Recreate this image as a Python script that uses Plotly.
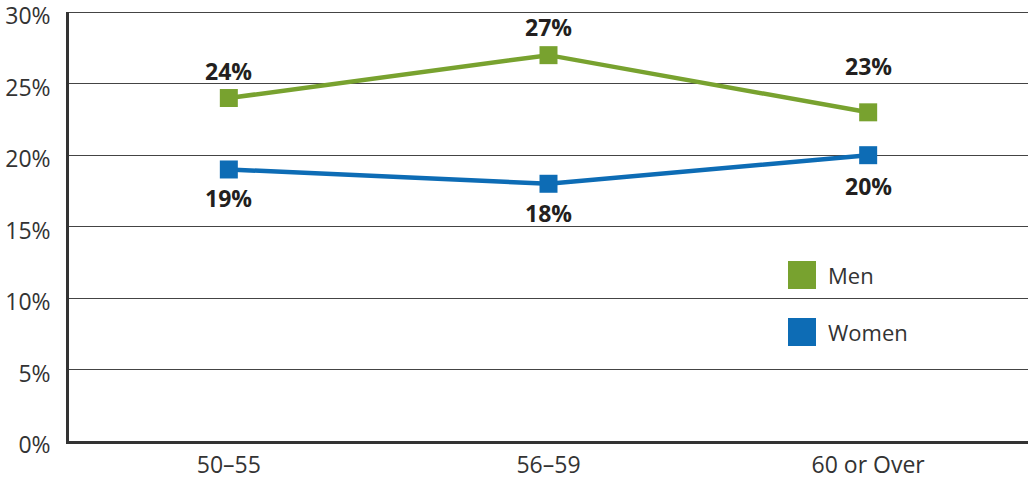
import plotly.graph_objects as go

categories = ["50–55", "56–59", "60 or Over"]
men = [24, 27, 23]
women = [19, 18, 20]
men_labels = ["24%", "27%", "23%"]
women_labels = ["19%", "18%", "20%"]
y_ticks = [0, 5, 10, 15, 20, 25, 30]
y_tick_labels = ["0%", "5%", "10%", "15%", "20%", "25%", "30%"]

GREEN = "#78A22F"
BLUE = "#0D6CB5"
FONT = "Open Sans"

fig = go.Figure()
fig.add_trace(go.Scatter(x=categories, y=men, mode="lines+markers", name="Men",
                         line=dict(color=GREEN, width=4.5),
                         marker=dict(symbol="square", size=18, color=GREEN),
                         showlegend=False, cliponaxis=False))
fig.add_trace(go.Scatter(x=categories, y=women, mode="lines+markers", name="Women",
                         line=dict(color=BLUE, width=4.5),
                         marker=dict(symbol="square", size=18, color=BLUE),
                         showlegend=False, cliponaxis=False))

annotations = []
men_shift = [27, 28, 46]
women_shift = [-29, -29, -31]
for c, v, t, s in zip(categories, men, men_labels, men_shift):
    annotations.append(dict(x=c, y=v, text=t, showarrow=False, yshift=s,
                            font=dict(family=FONT, size=23, color="#231F20", weight="bold")))
for c, v, t, s in zip(categories, women, women_labels, women_shift):
    annotations.append(dict(x=c, y=v, text=t, showarrow=False, yshift=s,
                            font=dict(family=FONT, size=23, color="#231F20", weight="bold")))

PW, PH, L, T = 959.0, 429.0, 69, 12
shapes = [
    # top gridline at the axis maximum
    dict(type="line", xref="paper", yref="y", x0=0, x1=1, y0=y_ticks[-1], y1=y_ticks[-1],
         line=dict(color="#444444", width=1.3), layer="between"),
    # white box behind the legend
    dict(type="rect", xref="paper", yref="paper",
         x0=(742 - L) / PW, x1=(933 - L) / PW,
         y0=(441 - 320) / PH, y1=(441 - 250) / PH,
         fillcolor="white", line=dict(width=0), layer="between"),
]
leg_items = [("Men", GREEN, 275), ("Women", BLUE, 332)]
for name, col, ypix in leg_items:
    yc = (441 - ypix) / PH
    shapes.append(dict(type="rect", xref="paper", yref="paper",
                       x0=(788 - L) / PW, x1=(816 - L) / PW,
                       y0=yc - 14 / PH, y1=yc + 14 / PH,
                       fillcolor=col, line=dict(width=0), layer="above"))
    annotations.append(dict(xref="paper", yref="paper", x=(826 - L) / PW, y=yc,
                            xanchor="left", yanchor="middle", text=name, showarrow=False,
                            font=dict(family=FONT, size=22, color="#333333")))

fig.update_layout(
    width=1030, height=492,
    margin=dict(l=L, r=2, t=T, b=51, autoexpand=False),
    paper_bgcolor="white", plot_bgcolor="white",
    font=dict(family=FONT, size=23, color="#333333"),
    annotations=annotations, shapes=shapes,
    xaxis=dict(type="category", range=[-0.5, 2.5], showgrid=False, automargin=False,
               showline=True, linecolor="#333333", linewidth=2.5,
               ticks="", ticklabelstandoff=2, tickfont=dict(size=23, color="#333333")),
    yaxis=dict(range=[0, 30.02], tickvals=y_ticks, ticktext=y_tick_labels, automargin=False,
               showgrid=True, gridcolor="#444444", gridwidth=1.3,
               showline=True, linecolor="#333333", linewidth=2.5,
               zeroline=False, ticks="", ticklabelstandoff=11, ticklabelshift=4,
               ticklabeloverflow="allow",
               tickfont=dict(size=23, color="#333333")),
)

fig.write_html("out.html", config={"displayModeBar": False},
               post_script="document.body.style.margin='0';document.body.style.padding='0';")
